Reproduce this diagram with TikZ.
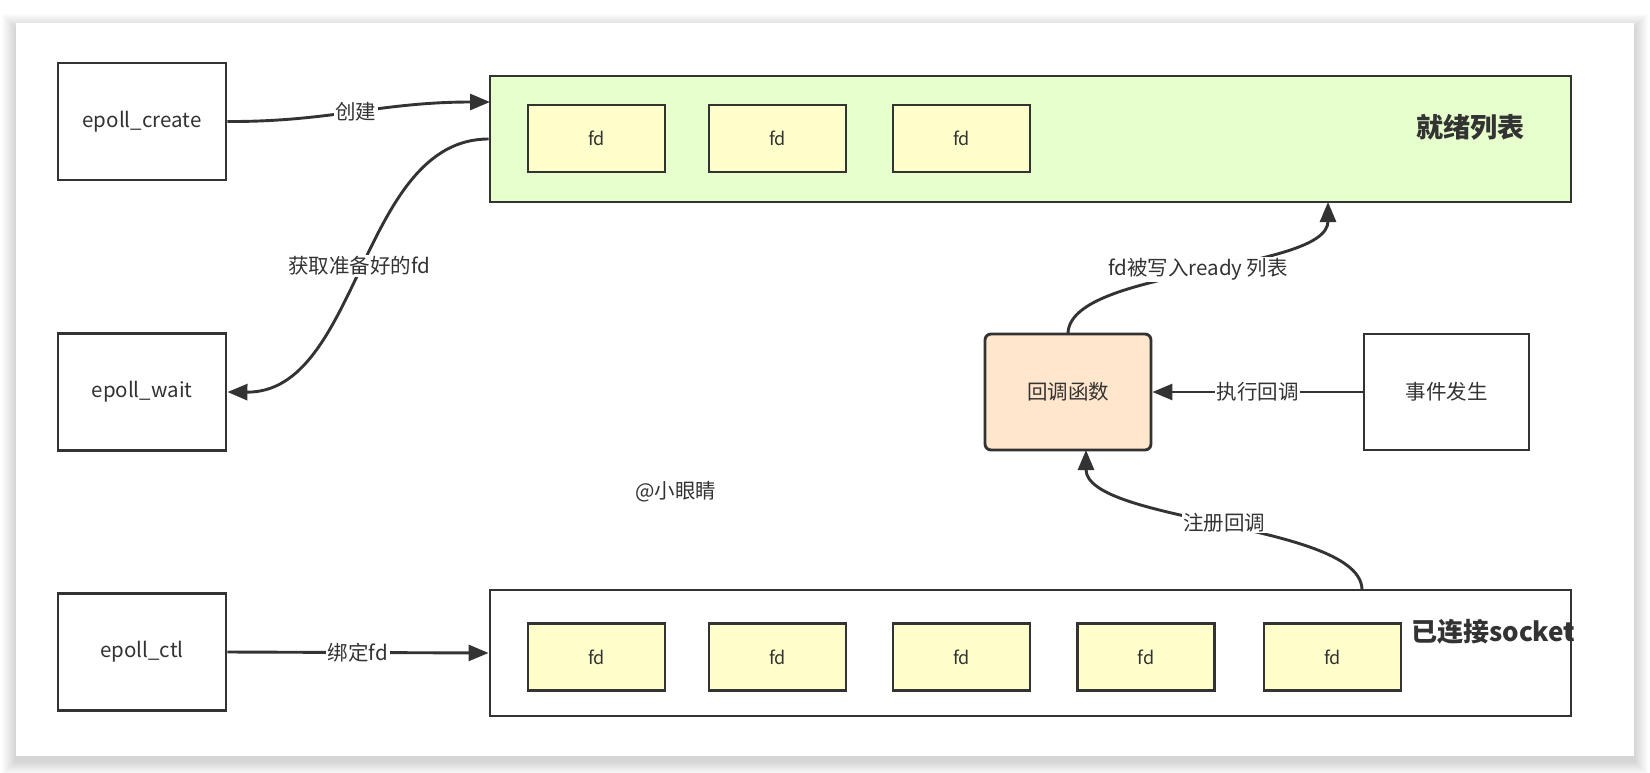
\documentclass[tikz,border=0pt]{standalone}
\usepackage{fontspec}
\setmainfont{Noto Sans CJK SC}
\usetikzlibrary{arrows.meta}
\definecolor{ln}{HTML}{333333}
\definecolor{greenfill}{HTML}{E6FFCC}
\definecolor{fdfill}{HTML}{FFFFCC}
\definecolor{cbfill}{HTML}{FFE6CC}
\begin{document}
\begin{tikzpicture}[x=1pt,y=-1pt,
  box/.style={draw=ln, line width=2.9, fill=white, minimum width=168, minimum height=117, inner sep=0, text=ln, font=\fontsize{20.5}{24}\selectfont},
  fdbox/.style={draw=ln, line width=2.9, fill=fdfill, minimum width=137, minimum height=67, inner sep=0, text=ln, font=\fontsize{18}{22}\selectfont},
  bigbox/.style={draw=ln, line width=2.9, minimum width=1081, minimum height=126, inner sep=0},
  arr/.style={draw=ln, line width=2.9, -{Triangle[length=20,width=16]}},
  lbl/.style={fill=white, inner sep=1.5, text=ln, font=\fontsize{20.5}{24}\selectfont},
  title/.style={text=ln, font=\fontsize{27}{32}\selectfont\bfseries, inner sep=0}
]
\useasboundingbox (0,0) rectangle (1650,772);
\fill[white] (0,0) rectangle (1650,772);
\foreach \i in {1,...,14}{
  \fill[black, opacity=0.012] (16-\i,23-\i+5) rectangle (1634+\i,756+\i+5);
}
\fill[white] (16,23) rectangle (1634,756);

% left boxes
\node[box] (ec) at (142,121.5) {epoll\_create};
\node[box] (ew) at (142,392) {epoll\_wait};
\node[box] (ectl) at (142,652) {epoll\_ctl};

% ready list
\node[bigbox, fill=greenfill] (ready) at (1030.5,139) {};
\node[fdbox] (t1) at (596.5,138.5) {fd};
\node[fdbox] (t2) at (777.5,138.5) {fd};
\node[fdbox] (t3) at (961.5,138.5) {fd};
\node[title] (readylbl) at (1470,127) {就绪列表};

% socket list
\node[bigbox, fill=white] (socket) at (1030.5,653) {};
\node[fdbox] (b1) at (596.5,657) {fd};
\node[fdbox] (b2) at (777.5,657) {fd};
\node[fdbox] (b3) at (961.5,657) {fd};
\node[fdbox] (b4) at (1146,657) {fd};
\node[fdbox] (b5) at (1332.5,657) {fd};
\node[title, anchor=west, font=\fontsize{26}{30}\selectfont\bfseries] (socklbl) at (1411,632) {已连接socket};

% callback and event
\node[box, fill=cbfill, rounded corners=6, minimum width=166, minimum height=116] (cb) at (1068,392) {回调函数};
\node[box, minimum width=165, minimum height=116] (ev) at (1446.5,392) {事件发生};

\node[text=ln, font=\fontsize{20.5}{24}\selectfont] (wm) at (676,492) {@小眼睛};

% connector end points
\coordinate (r1) at (490,102);
\coordinate (r3) at (1328,202);
\coordinate (s1) at (1362,590);
\coordinate (c1) at (1086,450);
\coordinate (c0) at (1068,334);

% connectors
\draw[arr] (ec.east) .. controls (330,122) and (380,102) .. (r1) node[lbl, pos=0.5] {创建};
\draw[arr] (ready.west) .. controls (360,139) and (360,393) .. (ew.east) node[lbl, pos=0.5] {获取准备好的fd};
\draw[arr] (ectl.east) -- (socket.west) node[lbl, midway] {绑定fd};
\draw[arr] (ev.west) -- (cb.east) node[lbl, midway] {执行回调};
\draw[arr] (c0) .. controls (1068,268) and (1328,272) .. (r3) node[lbl, pos=0.5] {fd被写入ready 列表};
\draw[arr] (s1) .. controls (1362,523) and (1086,523) .. (c1) node[lbl, pos=0.5] {注册回调};
\end{tikzpicture}
\end{document}
